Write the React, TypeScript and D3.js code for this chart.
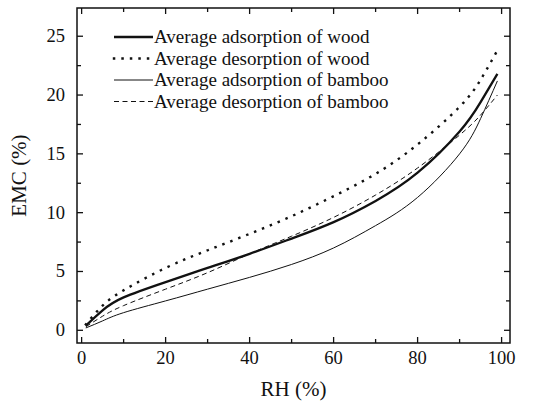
import React, { useEffect, useRef } from "react"
import * as d3 from "d3"

const W = 547
const H = 401
const M = { left: 77, right: 37, top: 8, bottom: 58 } // frame 77..510, 8..343

// relative humidity (%)
const RH = [1, 5, 10, 20, 30, 40, 50, 60, 70, 80, 90, 95, 99]
// EMC (%)
const woodAds = [0.4, 1.7, 2.8, 4.1, 5.3, 6.5, 7.8, 9.2, 11.0, 13.4, 16.9, 19.4, 21.8]
const woodDes = [0.5, 2.1, 3.4, 5.3, 6.8, 8.2, 9.7, 11.4, 13.3, 15.8, 19.0, 21.3, 23.8]
const bambooAds = [0.2, 0.8, 1.5, 2.5, 3.5, 4.5, 5.6, 7.0, 8.9, 11.3, 15.0, 18.0, 21.2]
const bambooDes = [0.3, 1.2, 2.1, 3.5, 4.9, 6.5, 8.0, 9.6, 11.5, 13.8, 16.6, 18.3, 20.0]

const X_TICKS = [0, 20, 40, 60, 80, 100]
const Y_TICKS = [0, 5, 10, 15, 20, 25]

const SERIES = [
  { name: "Average adsorption of wood", values: woodAds, width: 2.3, dash: null, cap: "butt" },
  { name: "Average desorption of wood", values: woodDes, width: 2.4, dash: "0.1,8.4", cap: "square" },
  { name: "Average adsorption of bamboo", values: bambooAds, width: 1, dash: null, cap: "butt" },
  { name: "Average desorption of bamboo", values: bambooDes, width: 1, dash: "5,3.5", cap: "butt" },
]

const FONT = '"Liberation Serif", "DejaVu Serif", serif'

export default function App() {
  const ref = useRef<SVGSVGElement>(null)

  useEffect(() => {
    const svg = d3.select(ref.current)
    svg.selectAll("*").remove()

    const x = d3.scaleLinear().domain([-1.1, 102]).range([M.left, W - M.right])
    const y = d3.scaleLinear().domain([-1.08, 27.4]).range([H - M.bottom, M.top])

    const x0 = M.left
    const x1 = W - M.right
    const y0 = H - M.bottom
    const y1 = M.top

    // curves
    const g = svg.append("g")
    SERIES.forEach((s) => {
      const line = d3
        .line<number>()
        .x((_, i) => x(RH[i]))
        .y((d) => y(d))
        .curve(d3.curveNatural)
      g.append("path")
        .attr("d", line(s.values))
        .attr("fill", "none")
        .attr("stroke", "#111")
        .attr("stroke-width", s.width)
        .attr("stroke-linecap", s.cap)
        .attr("stroke-dasharray", s.dash)
    })

    // frame
    svg
      .append("rect")
      .attr("x", x0)
      .attr("y", y1)
      .attr("width", x1 - x0)
      .attr("height", y0 - y1)
      .attr("fill", "none")
      .attr("stroke", "#111")
      .attr("stroke-width", 1.5)

    // ticks, all pointing inward, on all four sides
    const xMinor = d3.range(0, 101, 10)
    const yMinor = d3.range(0, 27.5, 2.5)
    const ticks = svg.append("g").attr("stroke", "#111").attr("stroke-width", 1.3)
    xMinor.forEach((v) => {
      const len = v % 20 === 0 ? 6 : 4
      ticks.append("line").attr("x1", x(v)).attr("x2", x(v)).attr("y1", y0).attr("y2", y0 - len)
      ticks.append("line").attr("x1", x(v)).attr("x2", x(v)).attr("y1", y1).attr("y2", y1 + len)
    })
    yMinor.forEach((v) => {
      const len = v % 5 === 0 ? 6 : 4
      ticks.append("line").attr("x1", x0).attr("x2", x0 + len).attr("y1", y(v)).attr("y2", y(v))
      ticks.append("line").attr("x1", x1).attr("x2", x1 - len).attr("y1", y(v)).attr("y2", y(v))
    })

    const txt = (sel: any, size: number) =>
      sel.style("font-family", FONT).style("font-size", size + "px").attr("fill", "#111")

    // tick labels
    txt(
      svg
        .append("g")
        .selectAll("text")
        .data(X_TICKS)
        .join("text")
        .attr("x", (d) => x(d))
        .attr("y", 364)
        .attr("text-anchor", "middle")
        .text((d) => d),
      18.5
    )

    txt(
      svg
        .append("g")
        .selectAll("text")
        .data(Y_TICKS)
        .join("text")
        .attr("x", 65)
        .attr("y", (d) => y(d) + 6)
        .attr("text-anchor", "end")
        .text((d) => d),
      18.5
    )

    // axis titles
    txt(
      svg
        .append("text")
        .attr("x", (x0 + x1) / 2)
        .attr("y", 396)
        .attr("text-anchor", "middle")
        .text("RH (%)"),
      21
    )

    txt(
      svg
        .append("text")
        .attr("transform", `translate(26,${(y0 + y1) / 2}) rotate(-90)`)
        .attr("text-anchor", "middle")
        .text("EMC (%)"),
      21
    )

    // legend
    const leg = svg.append("g")
    SERIES.forEach((s, i) => {
      const ly = 37 + i * 21.5
      leg
        .append("line")
        .attr("x1", 114)
        .attr("x2", 153)
        .attr("y1", ly)
        .attr("y2", ly)
        .attr("stroke", "#111")
        .attr("stroke-width", s.width)
        .attr("stroke-linecap", s.cap)
        .attr("stroke-dasharray", s.dash)
      txt(
        leg
          .append("text")
          .attr("x", 154)
          .attr("y", ly + 6)
          .text(s.name),
        19
      )
    })
  }, [])

  return (
    <div style={{ position: "absolute", left: 0, top: 0 }}>
      <svg ref={ref} width={W} height={H} style={{ display: "block", background: "#fff" }} />
    </div>
  )
}
